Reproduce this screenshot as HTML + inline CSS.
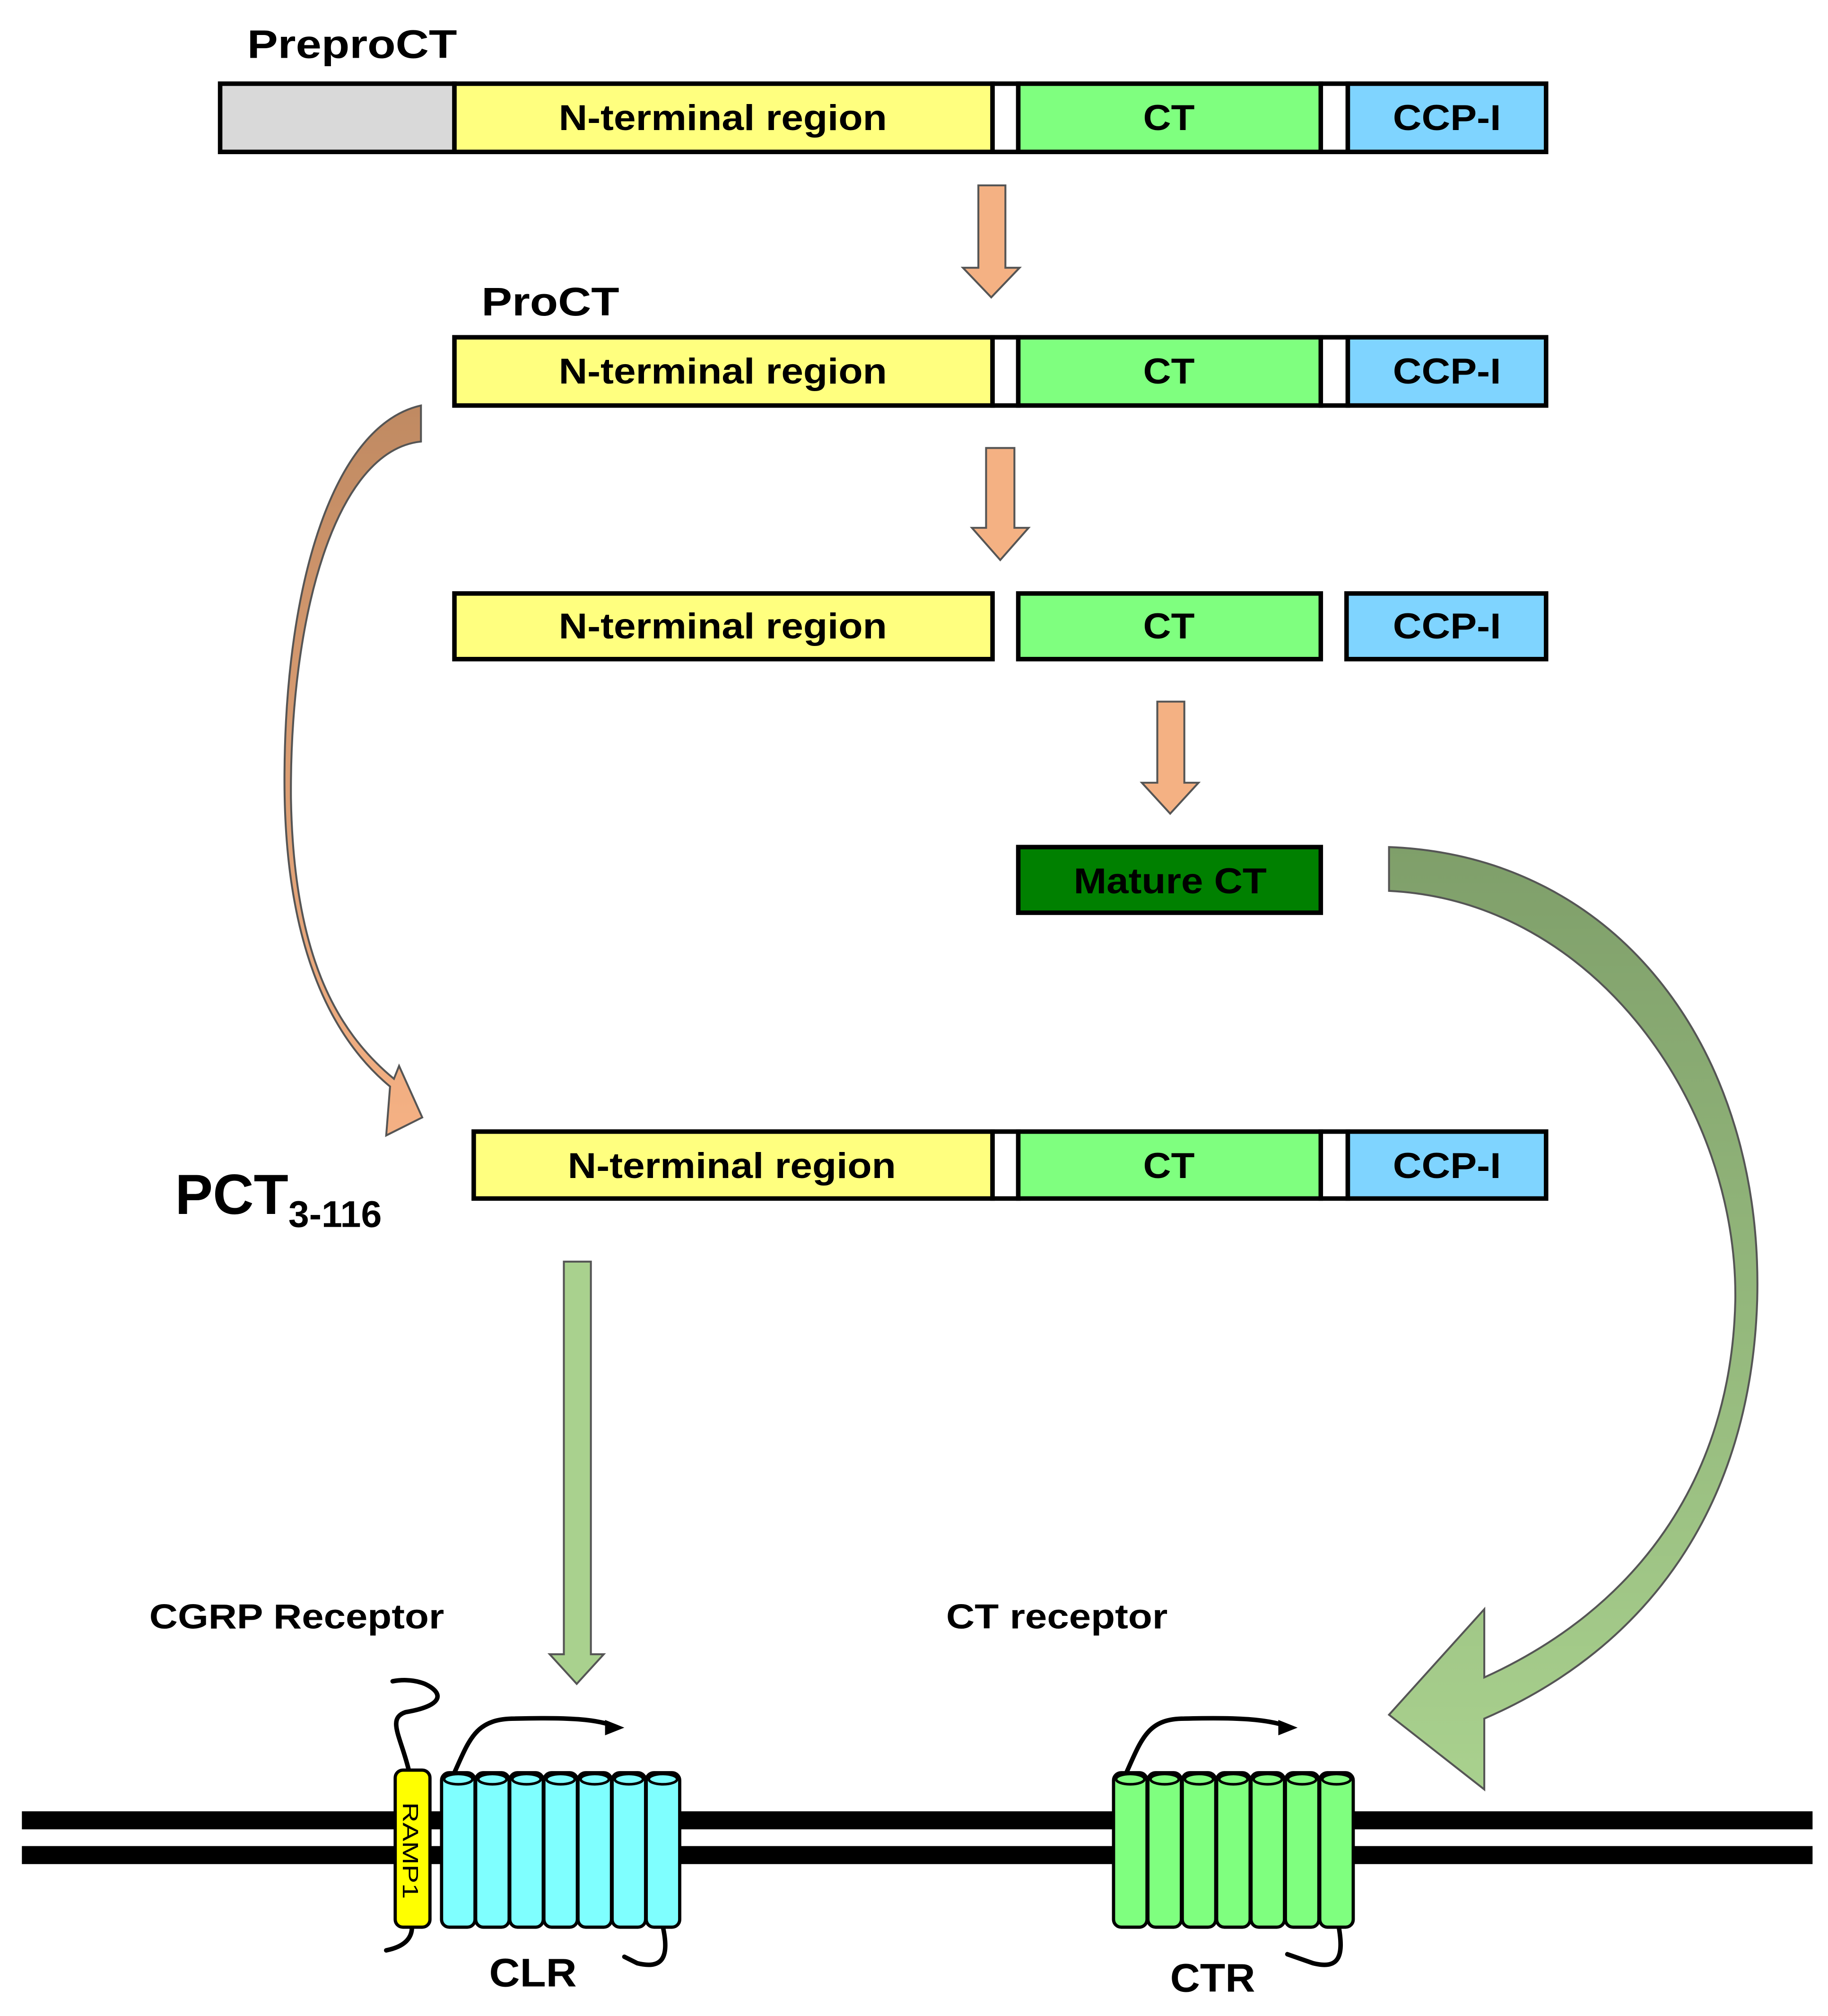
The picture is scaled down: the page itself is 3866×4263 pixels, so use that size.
<!DOCTYPE html>
<html><head><meta charset="utf-8"><style>
html,body{margin:0;padding:0;background:#fff}
svg{display:block}
text{font-family:"Liberation Sans",sans-serif;font-weight:bold;fill:#000}
</style></head><body>
<svg width="3866" height="4263" viewBox="0 0 1420 1566" preserveAspectRatio="none" xmlns="http://www.w3.org/2000/svg">
<defs>
<linearGradient id="br" x1="0" y1="0" x2="0" y2="1"><stop offset="0" stop-color="#c08a62"/><stop offset="1" stop-color="#f5b184"/></linearGradient>
<linearGradient id="gr" x1="0" y1="0" x2="0" y2="1"><stop offset="0" stop-color="#7f9f6a"/><stop offset="1" stop-color="#a9d18e"/></linearGradient>
<g id="cylC"><rect x="0" y="0" width="26" height="120" rx="6" fill="#7fffff" stroke="#000" stroke-width="2.5"/><ellipse cx="13" cy="5" rx="11" ry="4" fill="#7fffff" stroke="#000" stroke-width="2"/></g>
<g id="cylG"><rect x="0" y="0" width="26" height="120" rx="6" fill="#7fff7f" stroke="#000" stroke-width="2.5"/><ellipse cx="13" cy="5" rx="11" ry="4" fill="#7fff7f" stroke="#000" stroke-width="2"/></g>
</defs>
<g font-size="31"><text x="192" y="45" textLength="163" lengthAdjust="spacingAndGlyphs">PreproCT</text><text x="374" y="245" textLength="107" lengthAdjust="spacingAndGlyphs">ProCT</text></g>
<g stroke="#000" stroke-width="3.5">
<rect x="171" y="65" width="182" height="53" fill="#d9d9d9"/>
<rect x="353" y="65" width="418" height="53" fill="#ffff7f"/>
<rect x="771" y="65" width="20" height="53" fill="#fff"/>
<rect x="791" y="65" width="235" height="53" fill="#7fff7f"/>
<rect x="1026" y="65" width="21" height="53" fill="#fff"/>
<rect x="1047" y="65" width="154" height="53" fill="#7fd4ff"/>
<rect x="353" y="262" width="418" height="53" fill="#ffff7f"/>
<rect x="771" y="262" width="20" height="53" fill="#fff"/>
<rect x="791" y="262" width="235" height="53" fill="#7fff7f"/>
<rect x="1026" y="262" width="21" height="53" fill="#fff"/>
<rect x="1047" y="262" width="154" height="53" fill="#7fd4ff"/>
<rect x="353" y="461" width="418" height="51" fill="#ffff7f"/>
<rect x="791" y="461" width="235" height="51" fill="#7fff7f"/>
<rect x="1046" y="461" width="155" height="51" fill="#7fd4ff"/>
<rect x="791" y="658" width="235" height="51" fill="#008000"/>
<rect x="368" y="879" width="403" height="52" fill="#ffff7f"/>
<rect x="771" y="879" width="20" height="52" fill="#fff"/>
<rect x="791" y="879" width="235" height="52" fill="#7fff7f"/>
<rect x="1026" y="879" width="21" height="52" fill="#fff"/>
<rect x="1047" y="879" width="154" height="52" fill="#7fd4ff"/>
</g>
<g font-size="28" lengthAdjust="spacingAndGlyphs">
<text x="434" y="101" textLength="255" lengthAdjust="spacingAndGlyphs">N-terminal region</text><text x="888" y="101" textLength="40" lengthAdjust="spacingAndGlyphs">CT</text><text x="1082" y="101" textLength="84" lengthAdjust="spacingAndGlyphs">CCP-I</text>
<text x="434" y="298" textLength="255" lengthAdjust="spacingAndGlyphs">N-terminal region</text><text x="888" y="298" textLength="40" lengthAdjust="spacingAndGlyphs">CT</text><text x="1082" y="298" textLength="84" lengthAdjust="spacingAndGlyphs">CCP-I</text>
<text x="434" y="496" textLength="255" lengthAdjust="spacingAndGlyphs">N-terminal region</text><text x="888" y="496" textLength="40" lengthAdjust="spacingAndGlyphs">CT</text><text x="1082" y="496" textLength="84" lengthAdjust="spacingAndGlyphs">CCP-I</text>
<text x="834" y="694" textLength="150" lengthAdjust="spacingAndGlyphs">Mature CT</text>
<text x="441" y="915" textLength="255" lengthAdjust="spacingAndGlyphs">N-terminal region</text><text x="888" y="915" textLength="40" lengthAdjust="spacingAndGlyphs">CT</text><text x="1082" y="915" textLength="84" lengthAdjust="spacingAndGlyphs">CCP-I</text>
</g>
<g fill="#f4b183" stroke="#555" stroke-width="1.5">
<path d="M760 144H781V208H792L770 231L748 208H760Z"/>
<path d="M766 348H788V410H799L777 435L755 410H766Z"/>
<path d="M899 545H920V608H931L909 632L887 608H899Z"/>
</g>
<path d="M327 315 V343 C260 350 225 480 226 620 C228 740 260 800 306 838 L310 828 L328 868 L300 882 L303 844 C250 800 220 720 221 600 C222 450 260 330 327 315Z" fill="url(#br)" stroke="#555" stroke-width="1.5"/>
<path d="M438 980H459V1285H469L448 1308L427 1285H438Z" fill="#a9d18e" stroke="#555" stroke-width="1.5"/>
<path d="M1079 658 C1260 665 1370 820 1365 1010 C1360 1170 1280 1280 1153 1335 V1390 L1079 1332 L1153 1250 V1303 C1270 1250 1345 1150 1348 1010 C1350 860 1240 700 1079 692 Z" fill="url(#gr)" stroke="#555" stroke-width="1.5"/>
<g font-size="27"><text x="116" y="1265" textLength="229" lengthAdjust="spacingAndGlyphs">CGRP Receptor</text><text x="735" y="1265" textLength="172" lengthAdjust="spacingAndGlyphs">CT receptor</text></g>
<rect x="17" y="1407" width="1391" height="14" fill="#000"/>
<rect x="17" y="1434" width="1391" height="14" fill="#000"/>
<g fill="none" stroke="#000" stroke-width="3.5" stroke-linecap="round">
<path d="M318 1377 C312 1350 300 1335 315 1330 C345 1325 345 1315 330 1308 C320 1304 310 1305 305 1306"/>
<path d="M300 1515 C315 1512 320 1505 320 1497"/>
<path d="M353 1377 C365 1350 370 1335 400 1335 C440 1334 465 1335 480 1342"/>
<path d="M515 1497 C520 1520 515 1530 495 1525 L485 1520"/>
<path d="M875 1377 C887 1350 892 1335 920 1335 C960 1334 985 1335 1003 1342"/>
<path d="M1040 1497 C1044 1520 1040 1530 1020 1525 L1000 1518"/>
</g>
<path d="M470 1336 L485 1342 L470 1348Z" fill="#000"/>
<path d="M993 1336 L1008 1342 L993 1348Z" fill="#000"/>
<rect x="307" y="1375" width="27" height="122" rx="6" fill="#ffff00" stroke="#000" stroke-width="2.5"/>
<text transform="translate(313 1400) rotate(90)" font-size="17" style="font-weight:normal" textLength="75" lengthAdjust="spacingAndGlyphs">RAMP1</text>
<use href="#cylC" x="343" y="1377"/><use href="#cylC" x="369.5" y="1377"/><use href="#cylC" x="396" y="1377"/><use href="#cylC" x="422.5" y="1377"/><use href="#cylC" x="449" y="1377"/><use href="#cylC" x="475.5" y="1377"/><use href="#cylC" x="502" y="1377"/>
<use href="#cylG" x="865" y="1377"/><use href="#cylG" x="891.7" y="1377"/><use href="#cylG" x="918.4" y="1377"/><use href="#cylG" x="945.1" y="1377"/><use href="#cylG" x="971.8" y="1377"/><use href="#cylG" x="998.5" y="1377"/><use href="#cylG" x="1025.2" y="1377"/>
<g font-size="31"><text x="380" y="1543" textLength="68" lengthAdjust="spacingAndGlyphs">CLR</text><text x="909" y="1547" textLength="66" lengthAdjust="spacingAndGlyphs">CTR</text></g>
<text x="136" y="943" font-size="44">PCT<tspan font-size="29" dy="10">3-116</tspan></text>
</svg>
</body></html>
